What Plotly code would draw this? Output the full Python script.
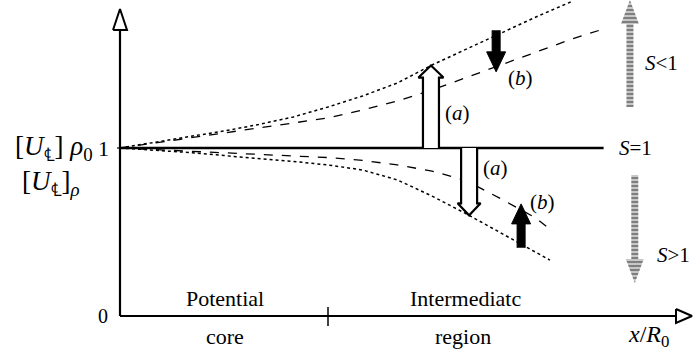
import numpy as np
import plotly.graph_objects as go

# ---- data (x in x/R0 units, y as velocity ratio) ----
x_grid = [0, 1, 2, 3, 4, 5, 6, 7, 8, 9, 10, 11, 12, 13]
upper_dotted = [1.0, 1.036, 1.068, 1.101, 1.140, 1.185, 1.244, 1.310, 1.387, 1.494, 1.589, 1.685, 1.780, 1.869]
upper_dashed = [1.0, 1.030, 1.060, 1.089, 1.119, 1.146, 1.179, 1.226, 1.280, 1.345, 1.420, 1.494, 1.571, 1.646]
upper_dashed_end = (13.85, 1.702)
lower_dashed = [1.0, 0.991, 0.982, 0.973, 0.964, 0.955, 0.943, 0.926, 0.899, 0.863, 0.804, 0.696, 0.583]
lower_dashed_end = (12.5, 0.50)
lower_dotted = [1.0, 0.988, 0.973, 0.955, 0.938, 0.920, 0.899, 0.869, 0.810, 0.714, 0.607, 0.494, 0.381]
lower_dotted_end = (12.4, 0.333)
s1_line = ([0, 13.95], [1.0, 1.0])
core_end = 6.0
arrow_a_x = [8.97, 10.07]
arrow_b_x = [10.85, 11.57]
s_arrows_x = [14.71, 14.85]
s_up_range = (1.244, 1.881)
s_down_range = (0.839, 0.196)

# ---- geometry helpers (px per unit) ----
PXX, PXY = 34.667, 168.0
def hx(p): return p / PXX
def hy(p): return p / PXY

ud_x = x_grid + [upper_dashed_end[0]]
ud_y = upper_dashed + [upper_dashed_end[1]]
ld_x = x_grid[:len(lower_dashed)] + [lower_dashed_end[0]]
ld_y = lower_dashed + [lower_dashed_end[1]]
lo_x = x_grid[:len(lower_dotted)] + [lower_dotted_end[0]]
lo_y = lower_dotted + [lower_dotted_end[1]]

def interp(xv, xs, ys):
    return float(np.interp(xv, xs, ys))

fig = go.Figure()
FONT = "Liberation Serif, Times New Roman, serif"

def line(xs, ys, dash="solid", w=1.5):
    fig.add_trace(go.Scatter(x=xs, y=ys, mode="lines", line=dict(color="black", width=w, dash=dash),
                             hoverinfo="skip", showlegend=False))

line(x_grid, upper_dotted, "dot", 1.5)
line(ud_x, ud_y, "dash", 1.3)
line(ld_x, ld_y, "dash", 1.3)
line(lo_x, lo_y, "dot", 1.5)
line(*s1_line, "solid", 2.5)

def arrow_poly(xc, y0, y1, sw, hw, hl):
    d = 1 if y1 > y0 else -1
    yb = y1 - d * hy(hl)
    xs = [xc - hx(sw), xc - hx(sw), xc - hx(hw), xc, xc + hx(hw), xc + hx(sw), xc + hx(sw)]
    ys = [y0, yb, yb, y1, yb, yb, y0]
    return xs, ys

# hollow arrows (a)
xa, ya = arrow_poly(arrow_a_x[0], 1.0, interp(arrow_a_x[0], x_grid, upper_dotted), 8, 12.5, 12)
fig.add_trace(go.Scatter(x=xa, y=ya, mode="lines", fill="toself", fillcolor="white",
                         line=dict(color="black", width=2.2), hoverinfo="skip", showlegend=False))
xa, ya = arrow_poly(arrow_a_x[1], 1.0, interp(arrow_a_x[1], lo_x, lo_y), 8, 11.5, 12)
fig.add_trace(go.Scatter(x=xa, y=ya, mode="lines", fill="toself", fillcolor="white",
                         line=dict(color="black", width=2.2), hoverinfo="skip", showlegend=False))

# solid arrows (b)
y0 = interp(arrow_b_x[0], x_grid, upper_dotted) + hy(5)
y1 = interp(arrow_b_x[0], ud_x, ud_y) - hy(5)
xa, ya = arrow_poly(arrow_b_x[0], y0, y1, 4, 9.5, 20)
fig.add_trace(go.Scatter(x=xa, y=ya, mode="lines", fill="toself", fillcolor="black",
                         line=dict(color="black", width=1), hoverinfo="skip", showlegend=False))
y0 = interp(arrow_b_x[1], lo_x, lo_y) - hy(4)
y1 = interp(arrow_b_x[1], ld_x, ld_y) + hy(6)
xa, ya = arrow_poly(arrow_b_x[1], y0, y1, 4, 9.5, 20)
fig.add_trace(go.Scatter(x=xa, y=ya, mode="lines", fill="toself", fillcolor="black",
                         line=dict(color="black", width=1), hoverinfo="skip", showlegend=False))

# hatched S arrows
for xc, (ys0, ys1) in zip(s_arrows_x, [s_up_range, s_down_range]):
    xa, ya = arrow_poly(xc, ys0, ys1, 3.5, 9, 24)
    fig.add_trace(go.Scatter(x=xa + [xa[0]], y=ya + [ya[0]], mode="lines", fill="toself",
                             fillcolor="white", line=dict(width=0, color="rgba(0,0,0,0)"),
                             fillpattern=dict(shape="-", fgcolor="black", bgcolor="white",
                                              size=4, solidity=0.72),
                             hoverinfo="skip", showlegend=False))

# axes
x_ax_end = hx(676 - 120)
y_ax_end = hy(316 - 30)
line([0, 0], [0, y_ax_end], "solid", 2.2)
line([0, x_ax_end], [0, 0], "solid", 2.2)
fig.add_trace(go.Scatter(x=[-hx(7), hx(7), 0, -hx(7)], y=[y_ax_end, y_ax_end, y_ax_end + hy(21), y_ax_end],
                         mode="lines", fill="toself", fillcolor="white", line=dict(color="black", width=2),
                         hoverinfo="skip", showlegend=False))
fig.add_trace(go.Scatter(x=[x_ax_end, x_ax_end, x_ax_end + hx(16), x_ax_end],
                         y=[hy(7), -hy(7), 0, hy(7)],
                         mode="lines", fill="toself", fillcolor="white", line=dict(color="black", width=2),
                         hoverinfo="skip", showlegend=False))
line([core_end, core_end], [-hy(10), hy(9)], "solid", 1.5)
line([-hx(3), 0], [1.0, 1.0], "solid", 1.2)

def txt(x, y, s, size=20, xanchor="center", yanchor="middle"):
    fig.add_annotation(x=x, y=y, text=s, showarrow=False, xanchor=xanchor, yanchor=yanchor,
                       font=dict(family=FONT, size=size, color="black"))

txt(-hx(9), 1.0, "1", 22, "right")
txt(-hx(25), 1.0, "[<i>U</i><sub>℄</sub>] <i>ρ</i><sub>0</sub>", 27, "right")
txt(-hx(38), 1.0 - hy(35), "[<i>U</i><sub>℄</sub>]<sub><i>ρ</i></sub>", 27, "right")
txt(-hx(10), 0, "0", 20, "right")
txt(hx(225 - 120), hy(316 - 298), "Potential", 22)
txt(hx(225 - 120), -hy(336 - 316), "core", 22)
txt(hx(465 - 120), hy(316 - 298), "Intermediatc", 22)
txt(hx(463 - 120), -hy(336 - 316), "region", 22)
txt(hx(648 - 120), -hy(336 - 316), "<i>x</i>/<i>R</i><sub>0</sub>", 24)
txt(hx(617 - 120), 1.0, "<i>S</i>=1", 21, "left")
txt(hx(643 - 120), hy(316 - 63), "<i>S</i>&lt;1", 21, "left")
txt(hx(655 - 120), hy(316 - 255), "<i>S</i>&gt;1", 21, "left")
txt(hx(457 - 120), hy(316 - 113), "(<i>a</i>)", 21)
txt(hx(495 - 120), hy(316 - 168), "(<i>a</i>)", 21)
txt(hx(520 - 120), hy(316 - 78), "(<i>b</i>)", 21)
txt(hx(542 - 120), hy(316 - 202), "(<i>b</i>)", 21)

fig.update_layout(
    width=693, height=352, margin=dict(l=0, r=0, t=0, b=0),
    paper_bgcolor="white", plot_bgcolor="white",
    xaxis=dict(range=[-hx(120), hx(693 - 120)], visible=False, fixedrange=True),
    yaxis=dict(range=[-hy(352 - 316), hy(316)], visible=False, fixedrange=True),
    showlegend=False,
)
fig.write_html("out.html", config={"displayModeBar": False, "staticPlot": True},
               post_script="document.body.style.margin='0';document.body.style.overflow='hidden';")
